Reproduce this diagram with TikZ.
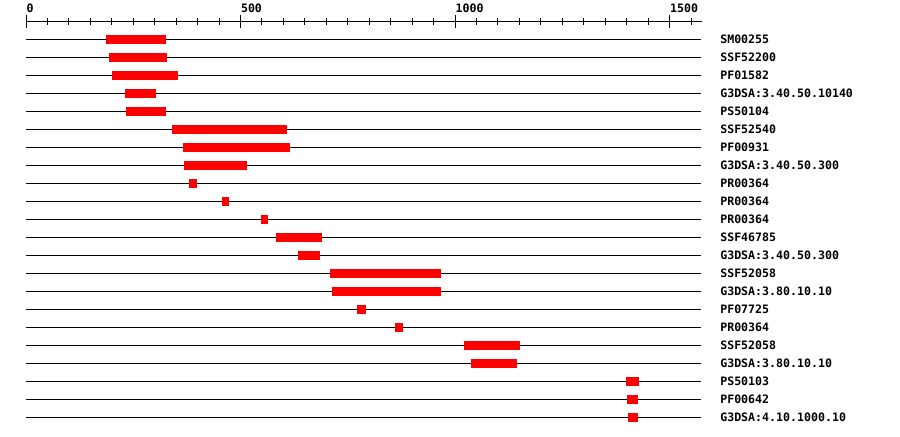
\documentclass[tikz,border=0pt]{standalone}
\usepackage{fontspec}
\setmonofont{DejaVu Sans Mono}
\usepackage{tikz}

\tikzset{
	dombar/.style={fill=red, draw=none},
	dname/.style={anchor=west, inner sep=0pt, font=\ttfamily\bfseries\fontsize{8.7}{10}\selectfont},
	tickname/.style={anchor=base west, inner sep=0pt, font=\ttfamily\bfseries\fontsize{8.7}{10}\selectfont}
}

\begin{document}
\begin{tikzpicture}[x=0.75pt,y=-0.75pt,line width=0.75pt]
		\useasboundingbox (0,0) rectangle (900,436);
		\begin{scope}[xshift=19.5pt,x=0.3218pt]
		% Residue axis.
		\draw (0,21) -- (1575,21);
		\foreach \t in {0,50,...,1550}
			\draw (\t,18) -- (\t,25);
		\foreach \t in {0,500,1000,1500}
			\draw (\t,15) -- (\t,28) node[tickname] (tick\t) at (\t,12) {\t};

		% Domain rows.
		\foreach \name/\a/\b [count=\i] in {
				SM00255/186/326,
				SSF52200/193/329,
				PF01582/200/354,
				G3DSA:3.40.50.10140/231/303,
				PS50104/233/326,
				SSF52540/340/608,
				PF00931/366/615,
				G3DSA:3.40.50.300/368/515,
				PR00364/380/398,
				PR00364/457/473,
				PR00364/548/564,
				SSF46785/583/690,
				G3DSA:3.40.50.300/634/685,
				SSF52058/708/967,
				G3DSA:3.80.10.10/713/967,
				PF07725/771/792,
				PR00364/860/879,
				SSF52058/1021/1151,
				G3DSA:3.80.10.10/1037/1144,
				PS50103/1398/1429,
				PF00642/1401/1426,
				G3DSA:4.10.1000.10/1403/1426}
		{
			\draw (0,{21+18*\i}) -- (1573,{21+18*\i});
			\fill[dombar] (\a,{16.5+18*\i}) rectangle (\b,{25.5+18*\i});
			\node[dname] (row\i) at (1617,{21+18*\i}) {\name};
		}
		\end{scope}
	\end{tikzpicture}
\end{document}
